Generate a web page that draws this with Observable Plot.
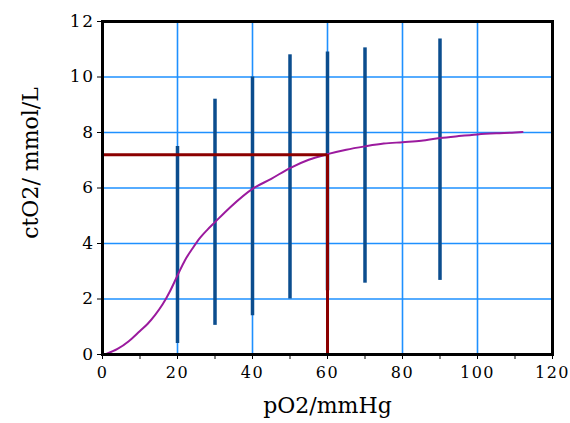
<!DOCTYPE html>
<html>
<head>
<meta charset="utf-8">
<script src="https://cdn.jsdelivr.net/npm/d3@7"></script>
<script src="https://cdn.jsdelivr.net/npm/@observablehq/plot@0.6"></script>
<style>
  html, body { margin: 0; padding: 0; background: white; }
  g[aria-label="x-axis tick label"] text,
  g[aria-label="y-axis tick label"] text { letter-spacing: 1.5px; }
  g[aria-label="ylabel"] text { letter-spacing: 2px; }
  g[aria-label="xlabel"] text { letter-spacing: 0.8px; }
</style>
</head>
<body>
<div id="chart"></div>
<script>
// Oxygen dissociation curve (pO2 in mmHg, ctO2 in mmol/L)
const curveX = [1, 4, 7, 10, 12, 14, 16, 18, 20, 22, 24, 26, 28, 30, 34, 40, 45, 50, 55, 60, 65, 70, 75, 80, 85, 90, 95, 100, 105, 110, 112];
const curveY = [0.02, 0.2, 0.48, 0.85, 1.1, 1.42, 1.8, 2.28, 2.85, 3.4, 3.82, 4.2, 4.5, 4.77, 5.3, 5.97, 6.33, 6.72, 7.02, 7.22, 7.38, 7.5, 7.6, 7.65, 7.7, 7.8, 7.87, 7.93, 7.97, 8.0, 8.02];

// Vertical range bars
const barX = [20, 30, 40, 50, 60, 70, 90];
const barLow = [0.4, 1.05, 1.4, 2.0, 2.3, 2.57, 2.67];
const barHigh = [7.5, 9.2, 10.0, 10.8, 10.9, 11.05, 11.37];

// Reference point
const refX = 60;
const refY = 7.2;

// Axes
const xTicks = [0, 10, 20, 30, 40, 50, 60, 70, 80, 90, 100, 110, 120];
const yTicks = [0, 2, 4, 6, 8, 10, 12];
const gridXVals = [20, 40, 60, 80, 100];
const gridYVals = [2, 4, 6, 8, 10];
const xLabel = "pO2/mmHg";
const yLabel = "ctO2/ mmol/L";

const curve = curveX.map((x, i) => ({x, y: curveY[i]}));
const bars = barX.map((x, i) => ({x, lo: barLow[i], hi: barHigh[i]}));

const gridColor = "#1e90ff";
const barColor = "#0b4d8e";
const curveColor = "#9b1a9e";
const refColor = "#8b0000";

const chart = Plot.plot({
  width: 570,
  height: 423,
  marginLeft: 102,
  marginRight: 18,
  marginTop: 21,
  marginBottom: 69,
  x: {domain: [0, 120]},
  y: {domain: [0, 12]},
  style: {fontFamily: "DejaVu Serif", background: "white", color: "black"},
  marks: [
    Plot.gridX(gridXVals, {stroke: gridColor, strokeOpacity: 1, strokeWidth: 1.6}),
    Plot.gridY(gridYVals, {stroke: gridColor, strokeOpacity: 1, strokeWidth: 1.6}),
    Plot.ruleX(bars, {x: "x", y1: "lo", y2: "hi", stroke: barColor, strokeWidth: 3.5}),
    Plot.line(curve, {x: "x", y: "y", stroke: curveColor, strokeWidth: 2, curve: "monotone-x"}),
    Plot.ruleY([refY], {x1: 0, x2: refX, stroke: refColor, strokeWidth: 3}),
    Plot.ruleX([refX], {y1: 0, y2: refY, stroke: refColor, strokeWidth: 3}),
    Plot.axisX(xTicks, {tickSize: 5, tickPadding: 7, tickFormat: d => (d % 20 === 0 ? String(d) : ""), fontSize: 16, label: null, stroke: "black"}),
    Plot.axisY(yTicks, {tickSize: 5, tickPadding: 3, fontSize: 17, label: null, stroke: "black"}),
    Plot.frame({stroke: "black", strokeWidth: 3}),
    Plot.text([xLabel], {frameAnchor: "bottom", dy: 58, fontSize: 22, text: d => d, ariaLabel: "xlabel"}),
    Plot.text([yLabel], {frameAnchor: "left", textAnchor: "middle", dx: -72, dy: -25, rotate: -90, fontSize: 22, text: d => d, ariaLabel: "ylabel"})
  ]
});

document.getElementById("chart").appendChild(chart);
</script>
</body>
</html>
